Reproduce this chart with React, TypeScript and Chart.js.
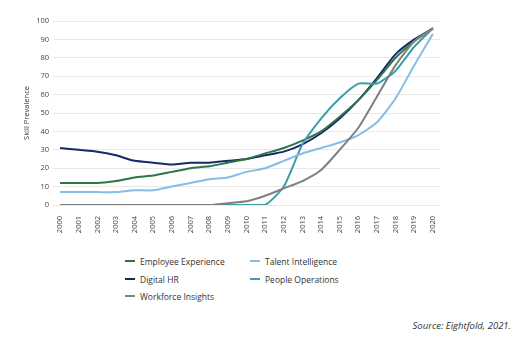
import React, { useEffect, useRef } from "react";
import { Chart, registerables } from "chart.js";

Chart.register(...registerables);

const years = [2000, 2001, 2002, 2003, 2004, 2005, 2006, 2007, 2008, 2009, 2010, 2011, 2012, 2013, 2014, 2015, 2016, 2017, 2018, 2019, 2020];
const employeeExperience = [12, 12, 12, 13, 15, 16, 18, 20, 21, 23, 25, 28, 31, 35, 40, 48, 57, 68, 80, 89, 96];
const digitalHR = [31, 30, 29, 27, 24, 23, 22, 23, 23, 24, 25, 27, 29, 33, 39, 47, 57, 69, 82, 90, 96];
const talentIntelligence = [7, 7, 7, 7, 8, 8, 10, 12, 14, 15, 18, 20, 24, 28, 31, 34, 38, 45, 58, 76, 93];
const peopleOperations = [0, 0, 0, 0, 0, 0, 0, 0, 0, 0, 0, 0, 10, 33, 47, 58, 66, 66, 73, 86, 96];
const workforceInsights = [0, 0, 0, 0, 0, 0, 0, 0, 0, 1, 2, 5, 9, 13, 19, 30, 42, 59, 76, 89, 96];
const yTicks = [0, 10, 20, 30, 40, 50, 60, 70, 80, 90, 100];

const COLORS = {
  ee: "#2f7446",
  dhr: "#15296b",
  ti: "#86bde6",
  po: "#3b9dab",
  wi: "#7f7f7f",
};

const legendItems = [
  { label: "Employee Experience", color: COLORS.ee, x: 125, y: 261 },
  { label: "Talent Intelligence", color: COLORS.ti, x: 250, y: 261 },
  { label: "Digital HR", color: COLORS.dhr, x: 125, y: 279 },
  { label: "People Operations", color: COLORS.po, x: 250, y: 279 },
  { label: "Workforce Insights", color: COLORS.wi, x: 125, y: 296 },
];

const FONT = "'Open Sans', 'Noto Sans', sans-serif";

export default function App() {
  const ref = useRef<HTMLCanvasElement | null>(null);

  useEffect(() => {
    document.body.style.margin = "0";
    const toPts = (arr: number[]) => arr.map((v, i) => ({ x: years[i], y: v }));
    const ds = (label: string, data: number[], color: string) => ({
      label,
      data: toPts(data),
      borderColor: color,
      backgroundColor: color,
      borderWidth: 2,
      pointRadius: 0,
      tension: 0.2,
      fill: false,
    });
    const chart = new Chart(ref.current as HTMLCanvasElement, {
      type: "line",
      data: {
        datasets: [
          ds("Workforce Insights", workforceInsights, COLORS.wi),
          ds("Talent Intelligence", talentIntelligence, COLORS.ti),
          ds("People Operations", peopleOperations, COLORS.po),
          ds("Employee Experience", employeeExperience, COLORS.ee),
          ds("Digital HR", digitalHR, COLORS.dhr),
        ],
      },
      options: {
        animation: false,
        responsive: false,
        maintainAspectRatio: false,
        layout: { padding: { left: 22, right: 89, top: 21, bottom: 0 } },
        plugins: { legend: { display: false }, tooltip: { enabled: false } },
        scales: {
          x: {
            type: "linear",
            min: 1999.62,
            max: 2020.38,
            grid: { display: false },
            border: { display: false },
            afterFit: (s: any) => {
              s.height = 35;
            },
            ticks: {
              stepSize: 1,
              includeBounds: false,
              autoSkip: false,
              minRotation: 90,
              maxRotation: 90,
              color: "#444",
              padding: 3,
              font: { family: FONT, size: 7.5 },
              callback: (v: any) => (Number.isInteger(v) ? String(v) : ""),
            },
          },
          y: {
            type: "linear",
            min: 0,
            max: 100,
            afterFit: (s: any) => {
              s.width = 31;
            },
            afterBuildTicks: (s: any) => {
              s.ticks = yTicks.map((v) => ({ value: v }));
            },
            grid: { color: "#e9e9e9", lineWidth: 1, drawTicks: false },
            border: { display: false },
            title: {
              display: true,
              text: "Skill Prevalence",
              color: "#333",
              padding: 0,
              font: { family: FONT, size: 7.5 },
            },
            ticks: {
              color: "#444",
              padding: 4,
              font: { family: FONT, size: 7.5 },
            },
          },
        },
      },
    } as any);
    return () => chart.destroy();
  }, []);

  return (
    <div style={{ position: "relative", width: 529, height: 342, background: "#fff", fontFamily: FONT }}>
      <canvas ref={ref} width={529} height={240} style={{ position: "absolute", left: 0, top: 0 }} />
      {legendItems.map((it) => (
        <div
          key={it.label}
          style={{ position: "absolute", left: it.x, top: it.y - 7, height: 14, display: "flex", alignItems: "center" }}
        >
          <span style={{ display: "inline-block", width: 10, height: 2.5, background: it.color, marginRight: 5 }} />
          <span style={{ fontSize: 8.5, color: "#333", whiteSpace: "nowrap" }}>{it.label}</span>
        </div>
      ))}
      <div
        style={{
          position: "absolute",
          right: 18,
          top: 319,
          fontSize: 9.5,
          fontStyle: "italic",
          color: "#333",
          whiteSpace: "nowrap",
        }}
      >
        Source: Eightfold, 2021.
      </div>
    </div>
  );
}
